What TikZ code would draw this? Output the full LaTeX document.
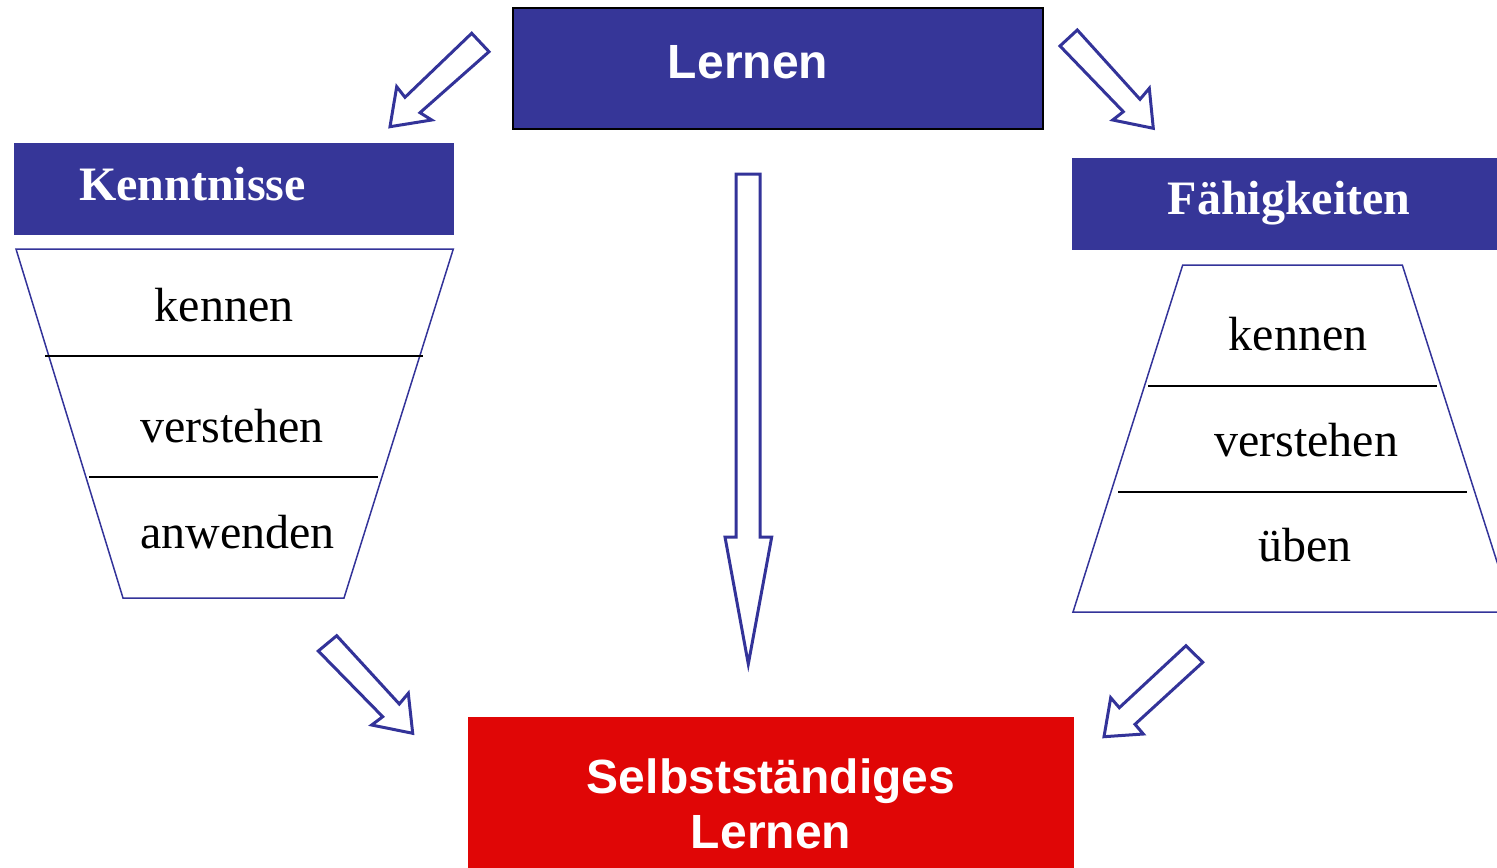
\documentclass[tikz,border=0pt]{standalone}
\usepackage{fontspec}
\setmainfont{Liberation Serif}
\setsansfont{Liberation Sans}
\definecolor{boxblue}{RGB}{54,54,152}
\definecolor{arrowblue}{RGB}{51,51,153}
\definecolor{boxred}{RGB}{224,6,6}
\begin{document}
\begin{tikzpicture}[x=0.5pt,y=-0.5pt,
  blockarrow/.style={draw=arrowblue, line width=1.5pt, fill=white, line join=miter},
  trap/.style={draw=arrowblue, line width=0.75pt},
  divider/.style={draw=black, line width=1pt},
  word/.style={font=\fontsize{24}{28}\selectfont, anchor=base, inner sep=0pt, text=black},
  headword/.style={font=\fontsize{24}{28}\selectfont\bfseries, anchor=base, inner sep=0pt, text=white},
  sansword/.style={font=\sffamily\bfseries\fontsize{24}{28}\selectfont, anchor=base, inner sep=0pt, text=white}]
\useasboundingbox (0,0) rectangle (1497,867);
\clip (0,0) rectangle (1497,867);

% boxes
\draw[fill=boxblue, draw=black, line width=1pt] (513,8) rectangle (1043,129);
\node[sansword] (lernen) at (748,78.3) {Lernen};

\fill[boxblue] (14,143) rectangle (454,235);
\node[headword] (kenntnisse) at (192.5,200) {Kenntnisse};

\fill[boxblue] (1072,158) rectangle (1510,250);
\node[headword] (faehig) at (1289,214) {Fähigkeiten};

\fill[boxred] (468,717) rectangle (1074,880);
\node[sansword] (selbst) at (771,793.3) {Selbstständiges};
\node[sansword] (lernen2) at (771,848.3) {Lernen};

% left trapezoid
\coordinate (LT1) at (16,249);
\coordinate (LT2) at (453.3,249);
\coordinate (LB2) at (344,598);
\coordinate (LB1) at (123,598);
\draw[trap] (LT1) -- (LT2) -- (LB2) -- (LB1) -- cycle;
\coordinate (LA1) at (45,356);
\coordinate (LA2) at (423,356);
\coordinate (LC1) at (89,476.7);
\coordinate (LC2) at (378,476.7);
\draw[divider] (LA1) -- (LA2);
\draw[divider] (LC1) -- (LC2);
\node[word] (lk) at (224,321.7) {kennen};
\node[word] (lv) at (232,442.7) {verstehen};
\node[word] (la) at (237.5,548) {anwenden};

% right trapezoid
\coordinate (RT1) at (1182.7,265);
\coordinate (RT2) at (1402.3,265);
\coordinate (RB2) at (1513,612);
\coordinate (RB1) at (1073,612);
\draw[trap] (RT1) -- (RT2) -- (RB2) -- (RB1) -- cycle;
\coordinate (RA1) at (1148,386);
\coordinate (RA2) at (1437,386);
\coordinate (RC1) at (1118,491.7);
\coordinate (RC2) at (1467,491.7);
\draw[divider] (RA1) -- (RA2);
\draw[divider] (RC1) -- (RC2);
\node[word] (rk) at (1298,350.7) {kennen};
\node[word] (rv) at (1306,456.7) {verstehen};
\node[word] (ru) at (1305,561.7) {üben};

% block arrows
\draw[blockarrow] (471.7,33.3) -- (489,51.7) -- (420,112.7) -- (431.7,120) -- (390,126.7)
  -- (396.7,86.7) -- (405,97.3) -- cycle;
\draw[blockarrow] (1060,46) -- (1077.3,30) -- (1140,99.3) -- (1149.3,88.3) -- (1153.3,128.3)
  -- (1112.7,120) -- (1123.3,111.7) -- cycle;
\draw[blockarrow] (318.3,651) -- (336.7,635.7) -- (399.3,704) -- (408.3,693.3) -- (412.7,733.3)
  -- (371.7,725) -- (382.7,716.7) -- cycle;
\draw[blockarrow] (1186,645.7) -- (1202.7,662.3) -- (1135,724.3) -- (1143.3,734) -- (1104,736.7)
  -- (1110.7,697.7) -- (1119.3,707.7) -- cycle;
\draw[blockarrow] (736,174) -- (760,174) -- (760,537) -- (771.7,537) -- (748.3,664)
  -- (725,537) -- (736,537) -- cycle;
\end{tikzpicture}
\end{document}
